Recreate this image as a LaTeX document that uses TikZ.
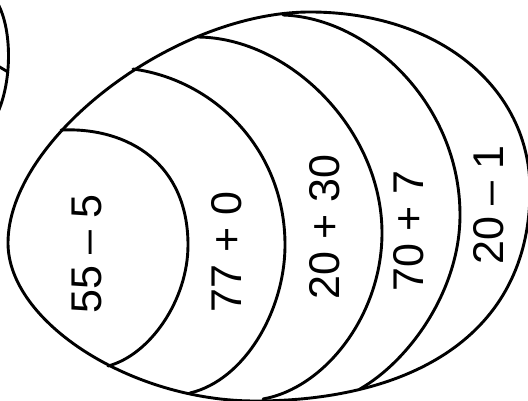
\documentclass[tikz,border=0pt]{standalone}
\usepackage{fontspec}
\setmainfont{Liberation Sans}
\begin{document}
\begin{tikzpicture}[x=1pt,y=-1pt,
  curve/.style={line width=2.9pt,line join=round,line cap=round},
  lbl/.style={rotate=90,inner sep=0pt,font=\fontsize{43}{50}\selectfont}]
\useasboundingbox (0,0) rectangle (528,401);
\clip (0,0) rectangle (528,401);
% left partial shape
\draw[curve] (-2,4) .. controls (12,30) and (12,80) .. (-2,112);
\draw[curve] (-2,66) -- (8,72);
% outer egg
\draw[curve] (8,243) .. controls (8,139) and (174,12) .. (310,12)
  .. controls (438,12) and (530,87) .. (530,190)
  .. controls (530,338) and (407,401) .. (255,401)
  .. controls (131.5,401) and (8,322) .. cycle;
% inner arcs
\draw[curve] (61,130) .. controls (130,127) and (188,165) .. (188,245)
  .. controls (188,300) and (150,355) .. (108,366);
\draw[curve] (133,69) .. controls (215,80) and (285,150) .. (285,245)
  .. controls (285,310) and (245,380) .. (190,393);
\draw[curve] (198,37) .. controls (290,38) and (382,130) .. (382,233)
  .. controls (382,315) and (325,388) .. (263,399);
\draw[curve] (283,15) .. controls (370,18) and (460,105) .. (460,215)
  .. controls (460,290) and (410,360) .. (360,389);
% labels
\node[lbl] (t1) at (87,254) {55 – 5};
\node[lbl] (t2) at (227,252) {77 + 0};
\node[lbl] (t3) at (325,227) {20 + 30};
\node[lbl] (t4) at (409,231) {70 + 7};
\node[lbl] (t5) at (489,205) {20 – 1};
\end{tikzpicture}
\end{document}
